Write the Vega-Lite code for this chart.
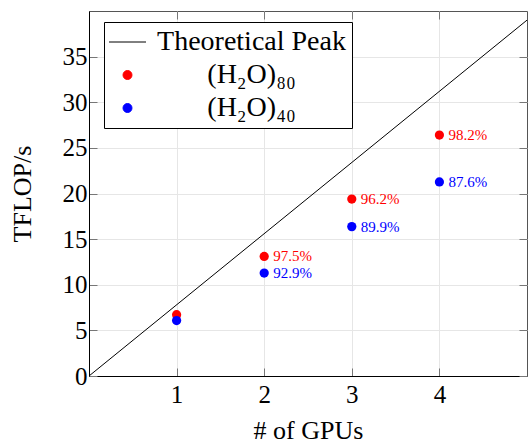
{
  "$schema": "https://vega.github.io/schema/vega-lite/v6.json",
  "width": 438,
  "height": 365,
  "autosize": {"type": "none"},
  "padding": {"left": 89, "top": 11, "right": 3, "bottom": 70},
  "background": "white",
  "config": {
    "font": "Liberation Serif",
    "view": {"stroke": "#555", "strokeWidth": 1},
    "axis": {
      "gridColor": "#e6e6e6",
      "labelFont": "Liberation Serif",
      "titleFont": "Liberation Serif",
      "labelFontSize": 25,
      "titleFontSize": 26,
      "labelColor": "black",
      "titleColor": "black",
      "titleFontWeight": "normal",
      "tickColor": "#777",
      "tickSize": -8,
      "domainColor": "black"
    }
  },
  "datasets": {
    "theory": [
      {"gpus": 0, "tflops": 0, "series": "Theoretical Peak"},
      {"gpus": 5, "tflops": 39, "series": "Theoretical Peak"}
    ],
    "measured": [
      {"gpus": 1, "tflops": 6.72, "series": "(H₂O)₈₀", "label": ""},
      {"gpus": 2, "tflops": 13.10, "series": "(H₂O)₈₀", "label": "97.5%"},
      {"gpus": 3, "tflops": 19.39, "series": "(H₂O)₈₀", "label": "96.2%"},
      {"gpus": 4, "tflops": 26.40, "series": "(H₂O)₈₀", "label": "98.2%"},
      {"gpus": 1, "tflops": 6.07, "series": "(H₂O)₄₀", "label": ""},
      {"gpus": 2, "tflops": 11.28, "series": "(H₂O)₄₀", "label": "92.9%"},
      {"gpus": 3, "tflops": 16.37, "series": "(H₂O)₄₀", "label": "89.9%"},
      {"gpus": 4, "tflops": 21.27, "series": "(H₂O)₄₀", "label": "87.6%"}
    ]
  },
  "layer": [
    {
      "data": {"name": "theory"},
      "mark": {"type": "line", "strokeWidth": 1},
      "encoding": {
        "x": {
          "field": "gpus", "type": "quantitative",
          "scale": {"domain": [0, 5], "nice": false},
          "axis": {"values": [1, 2, 3, 4], "title": "# of GPUs", "grid": true, "labelPadding": 14, "titlePadding": 10}
        },
        "y": {
          "field": "tflops", "type": "quantitative",
          "scale": {"domain": [0, 40], "nice": false},
          "axis": {"values": [0, 5, 10, 15, 20, 25, 30, 35], "title": "TFLOP/s", "grid": true, "labelPadding": 10, "titlePadding": 27}
        },
        "color": {
          "field": "series", "type": "nominal",
          "scale": {"domain": ["Theoretical Peak", "(H₂O)₈₀", "(H₂O)₄₀"], "range": ["black", "#ff0000", "#0000ff"]},
          "legend": {
            "orient": "none", "legendX": 15, "legendY": 11,
            "title": null,
            "strokeColor": "black", "fillColor": "white",
            "padding": 6, "cornerRadius": 0,
            "symbolSize": 1089, "symbolOffset": 3.5,
            "labelFont": "Liberation Serif", "labelFontSize": 28,
            "labelAlign": "center", "labelOffset": 110,
            "labelColor": "black", "labelLimit": 400,
            "rowPadding": 5,
            "encode": {
              "symbols": {
                "update": {
                  "shape": {"signal": "datum.value === 'Theoretical Peak' ? 'stroke' : 'circle'"},
                  "size": {"signal": "datum.value === 'Theoretical Peak' ? 1369 : 80"},
                  "fill": {"signal": "datum.value === 'Theoretical Peak' ? 'transparent' : scale('color', datum.value)"},
                  "stroke": {"signal": "datum.value === 'Theoretical Peak' ? 'black' : 'transparent'"},
                  "strokeWidth": {"value": 1},
                  "opacity": {"value": 1},
                  "fillOpacity": {"value": 1},
                  "strokeOpacity": {"value": 1}
                }
              }
            }
          }
        }
      }
    },
    {
      "data": {"name": "measured"},
      "mark": {"type": "point", "filled": true, "opacity": 1, "size": 85},
      "encoding": {
        "x": {"field": "gpus", "type": "quantitative", "axis": {"orient": "top", "values": [1, 2, 3, 4], "labels": false, "title": null, "grid": false, "domain": false}},
        "y": {"field": "tflops", "type": "quantitative", "axis": {"orient": "right", "values": [0, 5, 10, 15, 20, 25, 30, 35], "labels": false, "title": null, "grid": false, "domain": false}},
        "color": {"field": "series", "type": "nominal"}
      }
    },
    {
      "data": {"name": "measured"},
      "mark": {"type": "text", "align": "left", "baseline": "middle", "dx": 9, "fontSize": 15, "font": "Liberation Serif"},
      "encoding": {
        "x": {"field": "gpus", "type": "quantitative", "axis": null},
        "y": {"field": "tflops", "type": "quantitative", "axis": null},
        "text": {"field": "label"},
        "color": {"field": "series", "type": "nominal"}
      }
    }
  ],
  "resolve": {"axis": {"x": "independent", "y": "independent"}}
}
